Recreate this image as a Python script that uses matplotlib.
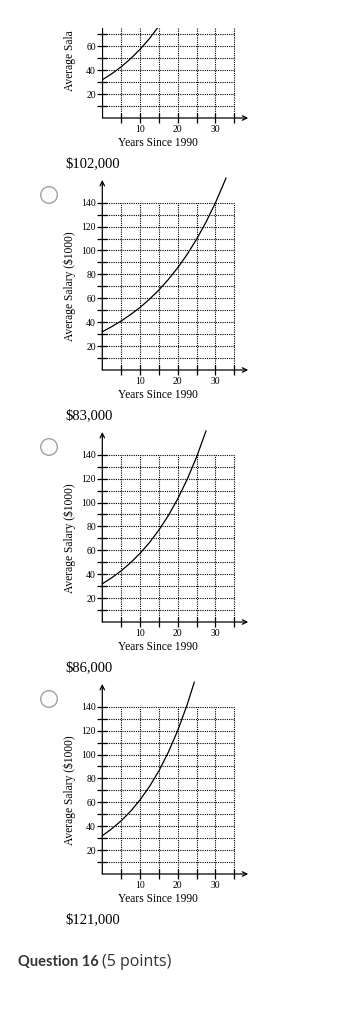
import matplotlib.pyplot as plt
from matplotlib.patches import Circle, Rectangle

# salary curves ($1000), x = years since 1990
years_a = [0, 2.5, 5, 7.5, 10, 12.5, 15]
salary_a = [32, 37.0, 42.8, 49.6, 57.4, 66.4, 76.9]
years_b = [0, 2.5, 5, 7.5, 10, 12.5, 15, 17.5, 20, 22.5, 25, 27.5, 30, 32.5, 32.8]
salary_b = [32, 36.3, 41.0, 46.4, 52.3, 59.2, 66.9, 75.7, 85.6, 96.7, 109.4, 123.7, 139.9, 158.2, 160.6]
years_c = [0, 2.5, 5, 7.5, 10, 12.5, 15, 17.5, 20, 22.5, 25, 27.5]
salary_c = [32, 37.0, 42.8, 49.6, 57.4, 66.4, 76.9, 89.0, 103.0, 119.3, 138.0, 159.8]
years_d = [0, 2.5, 5, 7.5, 10, 12.5, 15, 17.5, 20, 22.5, 24.4]
salary_d = [32, 37.8, 44.5, 52.5, 62.0, 73.1, 86.2, 101.8, 120.0, 141.6, 160.5]

answers = ["$102,000", "$83,000", "$86,000", "$121,000"]
x_ticks = [5, 10, 15, 20, 25, 30, 35]
x_labels = ["", "10", "", "20", "", "30", ""]
y_ticks = [10, 20, 30, 40, 50, 60, 70, 80, 90, 100, 110, 120, 130, 140]
y_labels = ["", "20", "", "40", "", "60", "", "80", "", "100", "", "120", "", "140"]

W, H = 358, 1018
serif = "Liberation Serif"
fig = plt.figure(figsize=(W / 100, H / 100), dpi=100)

x0 = 102.3          # pixel of x = 0
px_x = 3.77         # pixels per year
px_y = 1.195        # pixels per $1000
origins = [118, 370, 622, 874]
tops = [75.5, 160, 160, 160]   # first graph is cut off by the page top
curves = [(years_a, salary_a), (years_b, salary_b), (years_c, salary_c), (years_d, salary_d)]

arrow = dict(arrowstyle="->", lw=0.9, color="k", shrinkA=0, shrinkB=0, mutation_scale=8)

for (yrs, sal), oy, top in zip(curves, origins, tops):
    ax = fig.add_axes([x0 / W, (H - oy) / H, 39 * px_x / W, top * px_y / H])
    ax.set_xlim(0, 39)
    ax.set_ylim(0, top)
    for s in ax.spines.values():
        s.set_visible(False)
    ax.patch.set_visible(False)
    dots = (0, (1, 1))
    ax.vlines(x_ticks, 0, 140, colors="k", lw=0.8, linestyles=dots)
    ax.hlines(y_ticks, 0, 35, colors="k", lw=0.8, linestyles=dots)
    ax.annotate("", xy=(38.7, 0), xytext=(0, 0), arrowprops=arrow, annotation_clip=False)
    if top > 150:
        ax.annotate("", xy=(0, 159), xytext=(0, 0), arrowprops=arrow, annotation_clip=False)
    else:
        ax.plot([0, 0], [0, top], color="k", lw=0.9)
    ax.plot(yrs, sal, color="k", lw=0.9, clip_on=top < 150)
    keep = [j for j, t in enumerate(y_ticks) if t < top]
    ax.set_xticks(x_ticks, x_labels)
    ax.set_yticks([y_ticks[j] for j in keep], [y_labels[j] for j in keep])
    ax.tick_params(direction="inout", length=7, width=0.9, labelsize=7, colors="k")
    ax.tick_params(axis="x", pad=1.5)
    ax.tick_params(axis="y", pad=1)
    for lab in ax.get_xticklabels() + ax.get_yticklabels():
        lab.set_family(serif)

# overlay in pixel coordinates for the page text
ov = fig.add_axes([0, 0, 1, 1], zorder=10)
ov.set_xlim(0, W)
ov.set_ylim(H, 0)
ov.axis("off")
ov.patch.set_visible(False)

for i, oy in enumerate(origins):
    if i == 0:
        # only the lower part of this label is on the page
        ov.text(70, oy - 27, "Average Sala", rotation=90, ha="center", va="bottom",
                family=serif, fontsize=8.3)
    else:
        ov.text(70, oy - 70 * px_y, "Average Salary ($1000)", rotation=90, ha="center",
                va="center", family=serif, fontsize=8.3)
    ov.text(158, oy + 24.5, "Years Since 1990", ha="center", va="center", family=serif, fontsize=8.3)
    ov.text(65, oy + 45.5, answers[i], ha="left", va="center", family=serif, fontsize=10.5)
    if i > 0:
        ov.add_patch(Circle((49, oy - 175), 8.3, facecolor="#fbfbfb", edgecolor="#999999", lw=0.9))

# top of the page is cut off
ov.add_patch(Rectangle((0, 0), W, 27, facecolor="white", edgecolor="none", zorder=5))

ov.text(18, 962, "Question 16", ha="left", va="center", fontsize=10.5, fontweight="bold",
        color="#333333", family="Lato")
ov.text(102, 962, "(5 points)", ha="left", va="center", fontsize=11.5, color="#333333",
        family="Open Sans")

fig.savefig("out.png", dpi=100)
